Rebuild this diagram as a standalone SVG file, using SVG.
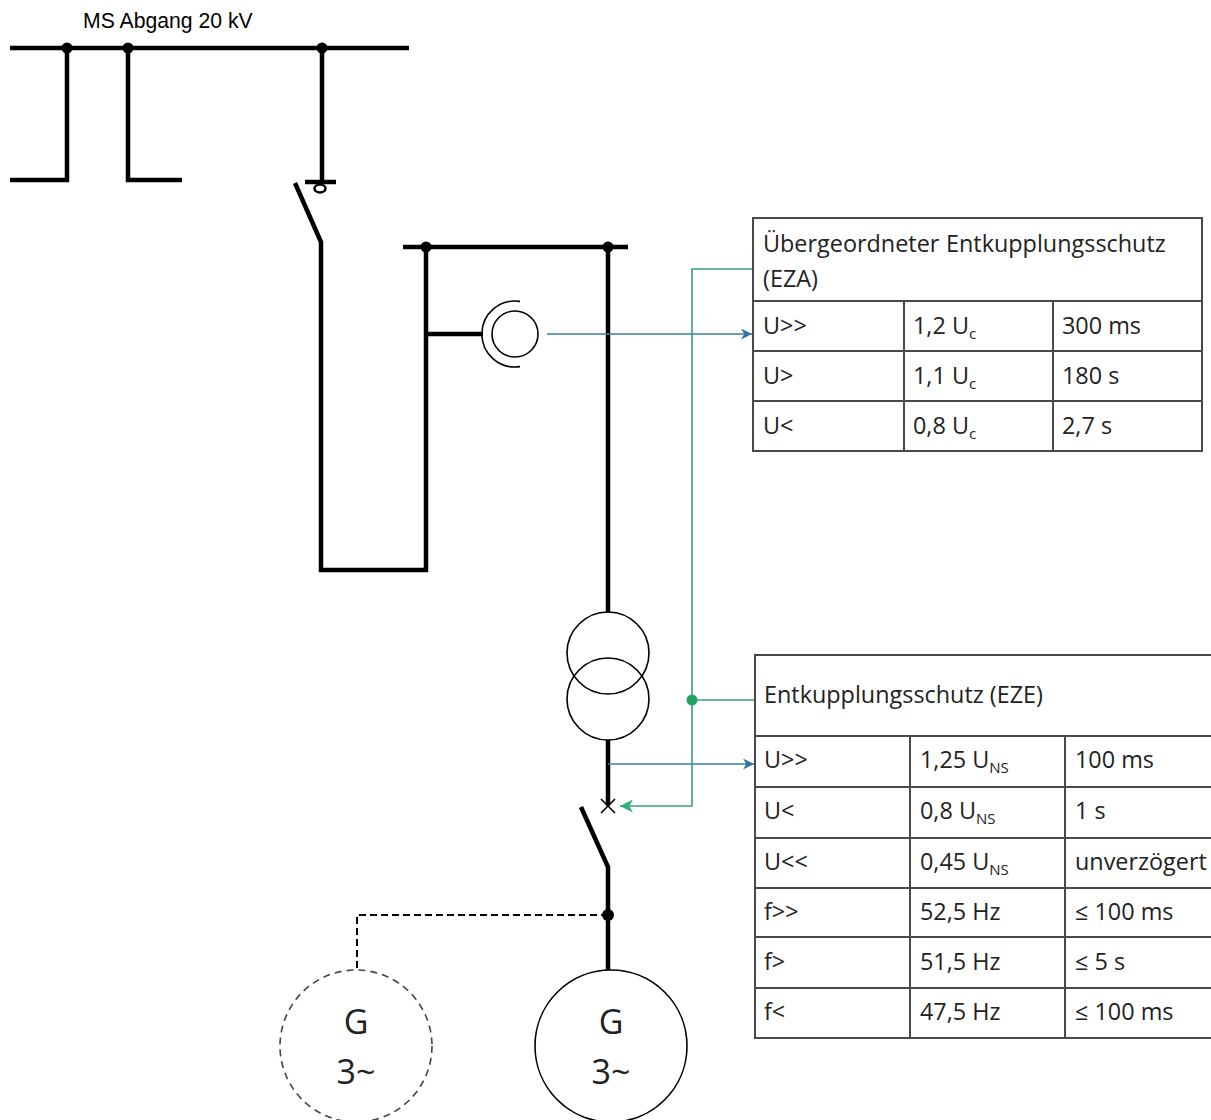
<svg xmlns="http://www.w3.org/2000/svg" width="1211" height="1120" viewBox="0 0 1211 1120">
<defs>
<style>
.w{stroke:#000;stroke-width:4.5;fill:none;stroke-linecap:butt}
.t{stroke:#000;stroke-width:1.6;fill:none}
.dot{fill:#000}
.tb{stroke:#4a4a4a;stroke-width:2;fill:none}
.tx{font-family:"Open Sans","Noto Sans",sans-serif;font-size:23.4px;fill:#222}
.sub{font-size:15px}
.blue{stroke:#3b7fa3;stroke-width:1.6;fill:none}
.green{stroke:#3a9c82;stroke-width:1.6;fill:none}
.lbl{font-family:"Liberation Sans",Arial,sans-serif;font-size:21.2px;fill:#000}
.gen{font-family:"Open Sans","Noto Sans",sans-serif;font-size:34px;fill:#222;text-anchor:middle}
</style>
<marker id="ab" viewBox="0 0 10 10" refX="10" refY="5" markerWidth="11" markerHeight="11" markerUnits="userSpaceOnUse" orient="auto"><path d="M0,0 L10,5 L0,10 L3,5 z" fill="#2f72a3"/></marker>
<marker id="ag" viewBox="0 0 10 10" refX="10" refY="5" markerWidth="13" markerHeight="13" markerUnits="userSpaceOnUse" orient="auto"><path d="M0,0 L10,5 L0,10 L3,5 z" fill="#2fae78"/></marker>
</defs>
<rect width="1211" height="1120" fill="#fff"/>

<g id="ms-bus">
<text class="lbl" x="83" y="28">MS Abgang 20 kV</text>
<path class="w" d="M10,48 H409"/>
<path class="w" d="M67,48 V180 H10"/>
<path class="w" d="M128,48 V180 H182"/>
<circle class="dot" cx="67" cy="48" r="5.5"/>
<circle class="dot" cx="128" cy="48" r="5.5"/>
<circle class="dot" cx="322" cy="48" r="5.5"/>
</g>

<g id="switch-1">
<path class="w" d="M322,48 V182"/>
<path class="w" d="M305,182 H336" stroke-width="3.5"/>
<ellipse cx="320" cy="188.5" rx="5.5" ry="4" fill="none" stroke="#000" stroke-width="2.5"/>
<path class="w" d="M295,183 L321,242 V570 H426 V247"/>
</g>

<g id="bus-2">
<path class="w" d="M403,247 H628"/>
<circle class="dot" cx="426" cy="247" r="5.5"/>
<circle class="dot" cx="608" cy="247" r="5.5"/>
<path class="w" d="M426,334 H483"/>
<path class="w" d="M608,247 V612"/>
</g>

<g id="ct">
<circle class="t" cx="515" cy="334" r="23"/>
<path class="t" d="M520,301.4 A33,33 0 1,0 520,366.6"/>
</g>

<g id="transformer">
<circle class="t" cx="608" cy="653" r="41"/>
<circle class="t" cx="608" cy="699" r="41"/>
<path class="w" d="M608,740 V806"/>
<path class="t" d="M601,799 L615,813 M615,799 L601,813" stroke-width="1.4"/>
</g>

<g id="switch-2">
<path class="w" d="M581,807 L608,867 V970"/>
<circle class="dot" cx="608" cy="915" r="6"/>
<path d="M608,915 H357 V970" fill="none" stroke="#000" stroke-width="2" stroke-dasharray="7,4"/>
</g>

<g id="gen-1">
<circle cx="356" cy="1046" r="76" fill="none" stroke="#444" stroke-width="1.6" stroke-dasharray="7,5"/>
<text class="gen" x="356" y="1034">G</text>
<text class="gen" x="356" y="1084">3~</text>
</g>
<g id="gen-2">
<circle class="t" cx="611" cy="1046" r="76"/>
<text class="gen" x="611" y="1034">G</text>
<text class="gen" x="611" y="1084">3~</text>
</g>

<g id="connectors">
<path class="blue" d="M547,334 H752" marker-end="url(#ab)"/>
<path class="blue" d="M608,764 H754" marker-end="url(#ab)"/>
<path class="green" d="M753,269 H692 V806 H620" marker-end="url(#ag)"/>
<path class="green" d="M692,700 H755"/>
<circle cx="692" cy="700" r="5.5" fill="#22a35e"/>
</g>

<g id="table-eza">
<rect class="tb" x="753" y="218" width="449" height="233"/>
<path class="tb" d="M753,301 H1202 M753,351 H1202 M753,401 H1202 M904,301 V451 M1053,301 V451"/>
<text class="tx" x="763" y="252">Übergeordneter</text>
<text class="tx" x="946" y="252">Entkupplungsschutz</text>
<text class="tx" x="763" y="287">(EZA)</text>
<text class="tx" x="763" y="334">U&gt;&gt;</text>
<text class="tx" x="913" y="334">1,2 U<tspan class="sub" dy="5">c</tspan></text>
<text class="tx" x="1062" y="334">300 ms</text>
<text class="tx" x="763" y="384">U&gt;</text>
<text class="tx" x="913" y="384">1,1 U<tspan class="sub" dy="5">c</tspan></text>
<text class="tx" x="1062" y="384">180 s</text>
<text class="tx" x="763" y="434">U&lt;</text>
<text class="tx" x="913" y="434">0,8 U<tspan class="sub" dy="5">c</tspan></text>
<text class="tx" x="1062" y="434">2,7 s</text>
</g>

<g id="table-eze">
<path class="tb" d="M1215,655 H755 V1038 H1215"/>
<path class="tb" d="M755,736 H1215 M755,787 H1215 M755,838 H1215 M755,888 H1215 M755,937 H1215 M755,988 H1215 M910,736 V1038 M1065,736 V1038"/>
<text class="tx" x="764" y="703">Entkupplungsschutz (EZE)</text>
<text class="tx" x="764" y="768">U&gt;&gt;</text>
<text class="tx" x="920" y="768">1,25 U<tspan class="sub" dy="5">NS</tspan></text>
<text class="tx" x="1075" y="768">100 ms</text>
<text class="tx" x="764" y="819">U&lt;</text>
<text class="tx" x="920" y="819">0,8 U<tspan class="sub" dy="5">NS</tspan></text>
<text class="tx" x="1075" y="819">1 s</text>
<text class="tx" x="764" y="870">U&lt;&lt;</text>
<text class="tx" x="920" y="870">0,45 U<tspan class="sub" dy="5">NS</tspan></text>
<text class="tx" x="1075" y="870">unverzögert</text>
<text class="tx" x="764" y="920">f&gt;&gt;</text>
<text class="tx" x="920" y="920">52,5 Hz</text>
<text class="tx" x="1075" y="920">≤ 100 ms</text>
<text class="tx" x="764" y="970">f&gt;</text>
<text class="tx" x="920" y="970">51,5 Hz</text>
<text class="tx" x="1075" y="970">≤ 5 s</text>
<text class="tx" x="764" y="1020">f&lt;</text>
<text class="tx" x="920" y="1020">47,5 Hz</text>
<text class="tx" x="1075" y="1020">≤ 100 ms</text>
</g>
</svg>
